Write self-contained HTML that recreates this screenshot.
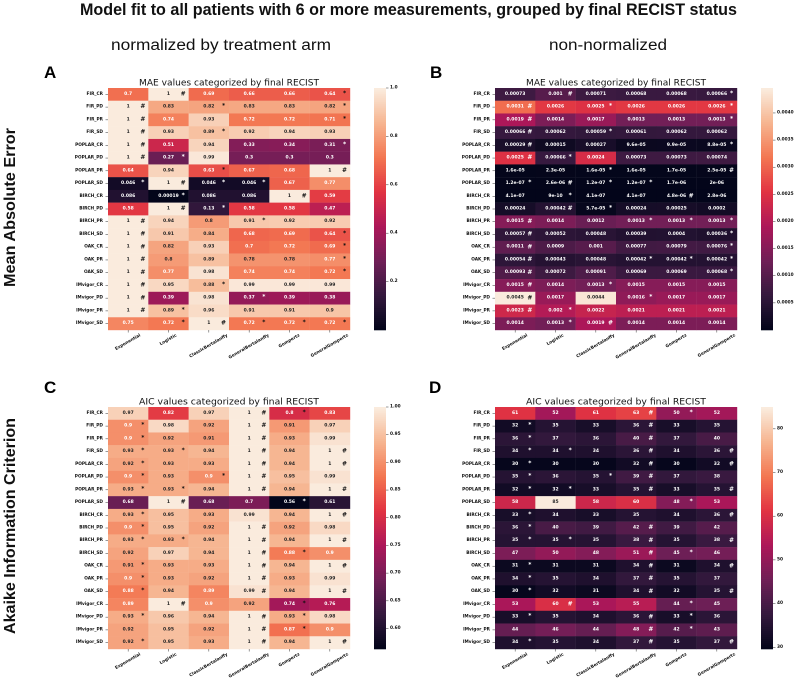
<!DOCTYPE html>
<html>
<head>
<meta charset="utf-8">
<title>Model fit heatmaps</title>
<style>
html,body{margin:0;padding:0;background:#fff;width:796px;height:681px;overflow:hidden}
svg{display:block}
.cell-text{font:bold 4.5px "DejaVu Sans",sans-serif;text-anchor:middle;dominant-baseline:central}
.mark{font:bold 6px "DejaVu Sans",sans-serif;text-anchor:middle;dominant-baseline:central}
.tick{font:bold 4.3px "DejaVu Sans",sans-serif;fill:#111}
.ptitle{font:9px "DejaVu Sans",sans-serif;fill:#111;text-anchor:middle}
.head{font-family:"Liberation Sans",sans-serif;fill:#111}
.panel{filter:blur(0.25px)}
</style>
</head>
<body>
<svg id="figure" xmlns="http://www.w3.org/2000/svg" width="796" height="681" viewBox="0 0 796 681">
<text class="head" x="80" y="15" font-size="16.5" font-weight="bold" textLength="657" lengthAdjust="spacingAndGlyphs">Model fit to all patients with 6 or more measurements, grouped by final RECIST status</text>
<text class="head" x="111" y="50" font-size="15.5" textLength="220" lengthAdjust="spacingAndGlyphs">normalized by treatment arm</text>
<text class="head" x="549" y="50" font-size="15.5" textLength="118" lengthAdjust="spacingAndGlyphs">non-normalized</text>
<text class="head" transform="translate(15,287) rotate(-90)" font-size="16" font-weight="bold" textLength="159" lengthAdjust="spacingAndGlyphs">Mean Absolute Error</text>
<text class="head" transform="translate(15,634) rotate(-90)" font-size="16" textLength="216" lengthAdjust="spacingAndGlyphs" font-weight="bold">Akaike Information Criterion</text>
</svg>
<script>
const rowLabels = ["FIR_CR","FIR_PD","FIR_PR","FIR_SD","POPLAR_CR","POPLAR_PD","POPLAR_PR","POPLAR_SD","BIRCH_CR","BIRCH_PD","BIRCH_PR","BIRCH_SD","OAK_CR","OAK_PR","OAK_SD","IMvigor_CR","IMvigor_PD","IMvigor_PR","IMvigor_SD"];
const modelLabels = ["Exponential","Logistic","ClassicBertalanffy","GeneralBertalanffy","Gompertz","GeneralGompertz"];

const maeNormValues = [
[0.7,1,0.69,0.66,0.66,0.64],[1,0.83,0.82,0.83,0.83,0.82],[1,0.74,0.93,0.72,0.72,0.71],[1,0.93,0.89,0.92,0.94,0.93],
[1,0.51,0.94,0.33,0.34,0.31],[1,0.27,0.99,0.3,0.3,0.3],[0.64,0.94,0.63,0.67,0.68,1],[0.046,1,0.046,0.046,0.67,0.77],
[0.086,0.00019,0.086,0.086,1,0.59],[0.58,1,0.13,0.58,0.58,0.47],[1,0.94,0.8,0.91,0.92,0.92],[1,0.91,0.84,0.68,0.69,0.64],
[1,0.82,0.93,0.7,0.72,0.69],[1,0.8,0.89,0.78,0.78,0.77],[1,0.77,0.98,0.74,0.74,0.72],[1,0.95,0.88,0.99,0.99,0.99],
[1,0.39,0.98,0.37,0.39,0.38],[1,0.89,0.96,0.91,0.91,0.9],[0.75,0.72,1,0.72,0.72,0.72]];
const maeNormMarks = [".#...*","#.*..*","#....*","#.*...","#....*","#*....",
"..*..#","*#**..",".*..#.",".#*...","#..*..","#....*","#....*","#....*","#....*","#.*...","#..*..","#*....",".*#***"];

const maeRawValues = [
[0.00073,0.001,0.00071,0.00068,0.00068,0.00066],[0.0031,0.0026,0.0025,0.0026,0.0026,0.0026],[0.0019,0.0014,0.0017,0.0013,0.0013,0.0013],[0.00066,0.00062,0.00059,0.00061,0.00062,0.00062],
[0.00029,0.00015,0.00027,9.6e-5,9.9e-5,8.8e-5],[0.0025,0.00066,0.0024,0.00073,0.00073,0.00074],[1.6e-5,2.3e-5,1.6e-5,1.6e-5,1.7e-5,2.5e-5],[1.2e-7,2.6e-6,1.2e-7,1.2e-7,1.7e-6,2e-6],
[4.1e-7,9e-10,4.1e-7,4.1e-7,4.8e-6,2.8e-6],[0.00024,0.00042,5.7e-5,0.00024,0.00025,0.0002],[0.0015,0.0014,0.0012,0.0013,0.0013,0.0013],[0.00057,0.00052,0.00048,0.00039,0.0004,0.00036],
[0.0011,0.0009,0.001,0.00077,0.00079,0.00076],[0.00054,0.00043,0.00048,0.00042,0.00042,0.00042],[0.00093,0.00072,0.00091,0.00069,0.00069,0.00068],[0.0015,0.0014,0.0013,0.0015,0.0015,0.0015],
[0.0045,0.0017,0.0044,0.0016,0.0017,0.0017],[0.0023,0.002,0.0022,0.0021,0.0021,0.0021],[0.0014,0.0013,0.0019,0.0014,0.0014,0.0014]];
const maeRawMarks = [".#...*","#.*..*","#....*","#.*...","#....*","#*....",
"..*..#","*#**..",".*..#.",".#*...","#..***","#....*","#....*","#..***","#....*","#.*...","#..*..","#*....",".*#..."];

const aicNormValues = [
[0.97,0.82,0.97,1,0.8,0.83],[0.9,0.98,0.92,1,0.91,0.97],[0.9,0.92,0.91,1,0.93,0.99],[0.93,0.93,0.94,1,0.94,1],
[0.92,0.93,0.93,1,0.94,1],[0.9,0.93,0.9,1,0.95,0.99],[0.93,0.93,0.94,1,0.94,1],[0.68,1,0.68,0.7,0.56,0.61],
[0.93,0.95,0.93,0.99,0.94,1],[0.9,0.95,0.92,1,0.92,0.98],[0.93,0.93,0.94,1,0.94,1],[0.92,0.97,0.94,1,0.88,0.9],
[0.91,0.93,0.93,1,0.94,1],[0.9,0.93,0.92,1,0.93,0.99],[0.88,0.94,0.89,0.99,0.94,1],[0.89,1,0.9,0.92,0.74,0.76],
[0.93,0.96,0.94,1,0.93,0.98],[0.92,0.95,0.92,1,0.87,0.9],[0.92,0.95,0.93,1,0.94,1]];
const aicNormMarks = ["...#*.","*..#..","*..#..","**.#.#","*..#.#","*.*#..","**.#.#",".#..*.",
"*....#","*..#..","**.#.#","...#*.","*..#.#","*..#..","*..#.#",".#..*.","*..#*.","...#*.","*..#.#"];

const aicRawValues = [
[61,52,61,63,50,52],[32,35,33,36,33,35],[36,37,36,40,37,40],[34,34,34,36,34,36],
[30,30,30,32,30,32],[35,36,35,39,37,38],[32,32,33,35,33,35],[58,85,58,60,48,53],
[33,34,33,35,34,36],[36,40,39,42,39,42],[35,35,35,38,35,38],[47,50,48,51,45,46],
[31,31,31,34,31,34],[34,35,34,37,35,37],[30,32,31,34,32,35],[53,60,53,55,44,45],
[33,35,34,36,33,36],[44,46,44,48,42,43],[34,35,34,37,35,37]];
const aicRawMarks = ["...#*.","*..#..","*..#..","**.#.#","*..#.#","*.*#..","**.#.#","....*.",
"*....#","*..#..","**.#.#","...#*.","*..#.#","*..#..","*..#.#",".#..*.","*..#*.","...#*.","*..#.#"];

const maeNormTicks = [0.2,0.4,0.6,0.8,1.0];
const maeRawTicks = [0.0005,0.001,0.0015,0.002,0.0025,0.003,0.0035,0.004];
const aicNormTicks = [0.6,0.65,0.7,0.75,0.8,0.85,0.9,0.95,1.0];
const aicRawTicks = [30,40,50,60,70,80];

const NS = "http://www.w3.org/2000/svg";
const svg = document.getElementById("figure");
const rocketStops = ["#03051a","#35193e","#701f57","#ad1759","#e13342","#f37651","#f6b48f","#faebdd"];

function hexRgb(h){return [1,3,5].map(function(i){return parseInt(h.substr(i,2),16);});}
function rocket(t){
  t=Math.max(0,Math.min(1,t));
  var p=t*(rocketStops.length-1),i=Math.min(Math.floor(p),rocketStops.length-2),f=p-i;
  var a=hexRgb(rocketStops[i]),b=hexRgb(rocketStops[i+1]);
  return [0,1,2].map(function(k){return Math.round(a[k]+(b[k]-a[k])*f);});
}
function css(c){return "rgb("+c[0]+","+c[1]+","+c[2]+")";}
function luminance(c){
  var v=c.map(function(x){x/=255;return x<=0.03928?x/12.92:Math.pow((x+0.055)/1.055,2.4);});
  return 0.2126*v[0]+0.7152*v[1]+0.0722*v[2];
}
function fmtG(v){
  var a=Math.abs(v);
  if(a!==0&&a<1e-4){
    var s=v.toExponential(1).split("e");
    var m=s[0].replace(/\.0$/,"");
    var ex=parseInt(s[1],10);
    return m+"e-"+String(Math.abs(ex)).padStart(2,"0");
  }
  var t=v.toPrecision(2);
  return t.indexOf(".")>=0?t.replace(/0+$/,"").replace(/\.$/,""):t;
}
function make(tag,parent,attrs){
  var el=document.createElementNS(NS,tag);
  for(var k in attrs){el.setAttribute(k,attrs[k]);}
  parent.appendChild(el);
  return el;
}

function drawPanel(cfg){
  var g=make("g",svg,{"class":"panel"});
  
  
  var W=242,H=242,nR=rowLabels.length,nC=modelLabels.length;
  var xScale=function(i){return cfg.x+i*W/nC;};
  var yScale=function(i){return cfg.y+i*H/nR;};
  var norm=function(v){return (v-cfg.vmin)/(cfg.vmax-cfg.vmin);};

  var letter=make("text",g,{x:cfg.letterX,y:cfg.letterY,"font-family":"Liberation Sans, sans-serif","font-weight":"bold","font-size":17,fill:"#000"});
  
  
  letter.textContent=cfg.letter;

  var title=make("text",g,{"class":"ptitle",x:cfg.x+W/2,y:cfg.y-2.5,textLength:180,lengthAdjust:"spacingAndGlyphs"});
  
  
  title.textContent=cfg.title;

  cfg.values.forEach(function(row,r){
    row.forEach(function(v,c){
      var col=rocket(norm(v));
      var rect=make("rect",g,{x:xScale(c),y:yScale(r),width:W/nC+0.2,height:H/nR+0.2,fill:css(col)});
      
      
      var txt=make("text",g,{"class":"cell-text",x:xScale(c)+W/nC/2,y:yScale(r)+H/nR/2,fill:luminance(col)>0.408?"#262626":"#fff"});
      
      
      txt.textContent=fmtG(v);
      var mk=cfg.marks[r].charAt(c);
      if(mk!=="."){
        var n=norm(v);
        var light=cfg.markLight?n<0.9:n<0.4;
        var m=make("text",g,{"class":"mark",x:xScale(c)+W/nC/2+14.7,y:yScale(r)+H/nR/2-(mk==="*"?1:0.4),fill:light?"#fff":"#111"});
        
        
        m.textContent=mk;
      }
    });
  });

  rowLabels.forEach(function(lab,r){
    var yc=yScale(r)+H/nR/2;
    var t=make("line",g,{x1:cfg.x-2.5,x2:cfg.x,y1:yc,y2:yc,stroke:"#333","stroke-width":0.5});
    
    
    var l=make("text",g,{"class":"tick",x:cfg.x-5,y:yc,"text-anchor":"end","dominant-baseline":"central"});
    
    
    l.textContent=lab;
  });

  modelLabels.forEach(function(lab,c){
    var xc=xScale(c)+W/nC/2,yb=cfg.y+H;
    var t=make("line",g,{x1:xc,x2:xc,y1:yb,y2:yb+2.5,stroke:"#333","stroke-width":0.5});
    
    
    var l=make("text",g,{"class":"tick","text-anchor":"middle","dominant-baseline":"central",x:0,y:0});
    
    
    l.textContent=lab;
    var len=l.getComputedTextLength();
    var cy=yb+4+len*0.5/2+1.5;
    l.setAttribute("transform","translate("+xc+","+cy+") rotate(-30)");
  });

  var cbX=cfg.x+W+24,cbW=12,steps=121;
  var cbScale=function(v){return cfg.y+H-norm(v)*H;};
  for(var i=0;i<steps;i++){
    var s=make("rect",g,{x:cbX,y:cfg.y+H-(i+1)*H/steps,width:cbW,height:H/steps+0.3,fill:css(rocket(i/(steps-1)))});
    
    
  }
  cfg.ticks.forEach(function(v){
    var yy=cbScale(v);
    var t=make("line",g,{x1:cbX+cbW,x2:cbX+cbW+2.5,y1:yy,y2:yy,stroke:"#333","stroke-width":0.5});
    
    
    var l=make("text",g,{"class":"tick",x:cbX+cbW+4,y:yy,"dominant-baseline":"central"});
    
    
    l.textContent=v.toFixed(cfg.tickDigits);
  });
}

drawPanel({letter:"A",letterX:44,letterY:78,x:108,y:88,title:"MAE values categorized by final RECIST",values:maeNormValues,marks:maeNormMarks,vmin:0,vmax:1,ticks:maeNormTicks,tickDigits:1,markLight:false});
drawPanel({letter:"B",letterX:430,letterY:78,x:495,y:88,title:"MAE values categorized by final RECIST",values:maeRawValues,marks:maeRawMarks,vmin:0,vmax:0.00446,ticks:maeRawTicks,tickDigits:4,markLight:true});
drawPanel({letter:"C",letterX:44,letterY:393,x:108,y:407,title:"AIC values categorized by final RECIST",values:aicNormValues,marks:aicNormMarks,vmin:0.563,vmax:1,ticks:aicNormTicks,tickDigits:2,markLight:false});
drawPanel({letter:"D",letterX:429,letterY:393,x:495,y:407,title:"AIC values categorized by final RECIST",values:aicRawValues,marks:aicRawMarks,vmin:29.6,vmax:85,ticks:aicRawTicks,tickDigits:0,markLight:true});
</script>
</body>
</html>
